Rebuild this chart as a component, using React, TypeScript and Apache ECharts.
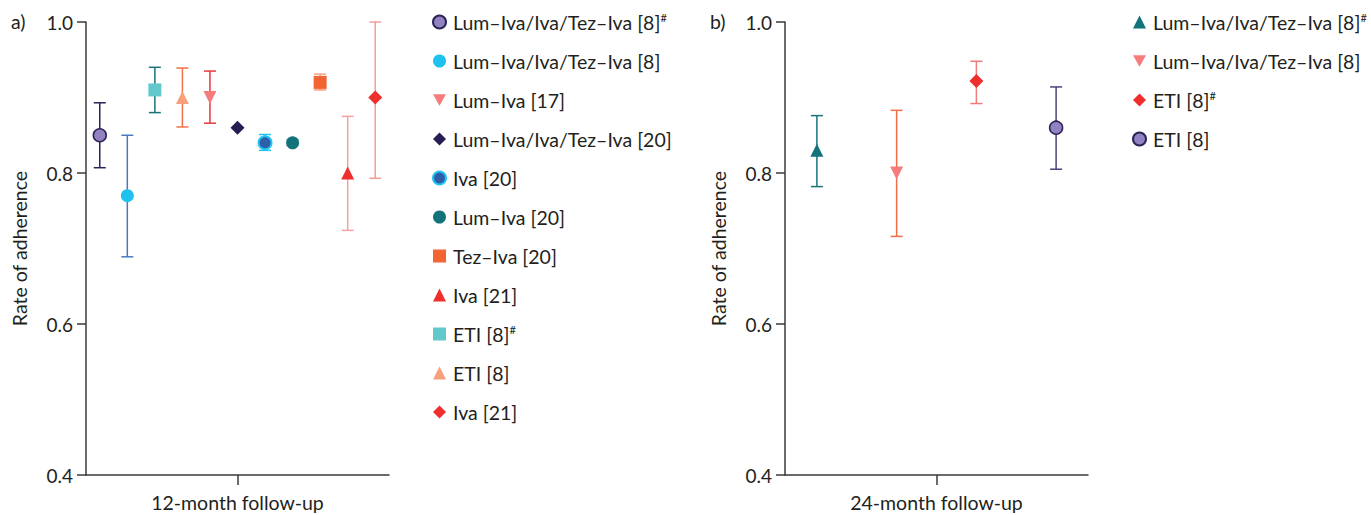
import React, { useEffect, useRef } from "react";
import * as echarts from "echarts";

// ---------- Panel a) 12-month follow-up (legend order) ----------
const studiesA = [
  "Lum–Iva/Iva/Tez–Iva [8]#",
  "Lum–Iva/Iva/Tez–Iva [8]",
  "Lum–Iva [17]",
  "Lum–Iva/Iva/Tez–Iva [20]",
  "Iva [20]",
  "Lum–Iva [20]",
  "Tez–Iva [20]",
  "Iva [21]",
  "ETI [8]#",
  "ETI [8]",
  "Iva [21]",
];
const posA = [1, 2, 5, 6, 7, 8, 9, 10, 3, 4, 11];
const rateA = [0.85, 0.77, 0.9, 0.86, 0.84, 0.84, 0.92, 0.8, 0.91, 0.9, 0.9];
const lowA = [0.807, 0.689, 0.866, null, 0.83, 0.836, 0.91, 0.724, 0.88, 0.861, 0.793];
const highA = [0.893, 0.85, 0.935, null, 0.851, 0.844, 0.931, 0.875, 0.94, 0.939, 1.0];

// ---------- Panel b) 24-month follow-up ----------
const studiesB = [
  "Lum–Iva/Iva/Tez–Iva [8]#",
  "Lum–Iva/Iva/Tez–Iva [8]",
  "ETI [8]#",
  "ETI [8]",
];
const posB = [1, 2, 3, 4];
const rateB = [0.83, 0.8, 0.922, 0.86];
const lowB = [0.782, 0.716, 0.892, 0.805];
const highB = [0.876, 0.883, 0.948, 0.914];

const yTicks = [0.4, 0.6, 0.8, 1.0];
const xLabelA = "12-month follow-up";
const xLabelB = "24-month follow-up";

// ---------- styles ----------
const DOWN = "path://M0,0L10,0L5,9Z";
const stylesA = [
  { symbol: "circle", color: "#9282C2", border: "#2B2356", bw: 1.5, bar: "#2B2356" },
  { symbol: "circle", color: "#1FC1EE", border: null, bw: 0, bar: "#4A78BB" },
  { symbol: DOWN, color: "#F47C7C", border: null, bw: 0, bar: "#E8383A" },
  { symbol: "diamond", color: "#251E55", border: null, bw: 0, bar: "#251E55" },
  { symbol: "circle", color: "#2F5EA9", border: "#22C3F0", bw: 2, bar: "#22C3F0" },
  { symbol: "circle", color: "#12737A", border: null, bw: 0, bar: "#7CC5C5" },
  { symbol: "rect", color: "#F26432", border: null, bw: 0, bar: "#F7A07F" },
  { symbol: "triangle", color: "#EF2E2E", border: null, bw: 0, bar: "#F6A1A3" },
  { symbol: "rect", color: "#62C8CB", border: null, bw: 0, bar: "#1B737A" },
  { symbol: "triangle", color: "#F7A07C", border: null, bw: 0, bar: "#F26F45" },
  { symbol: "diamond", color: "#EF2E2E", border: null, bw: 0, bar: "#F59A9C" },
];
const stylesB = [
  { symbol: "triangle", color: "#12737A", border: null, bw: 0, bar: "#1B737A" },
  { symbol: DOWN, color: "#F47C7C", border: null, bw: 0, bar: "#F26F45" },
  { symbol: "diamond", color: "#EF2E2E", border: null, bw: 0, bar: "#F07A7C" },
  { symbol: "circle", color: "#9282C2", border: "#2B2356", bw: 1.5, bar: "#4B4478" },
];

const FONT = "Lato";
const TXT = "#231F20";
const AXIS = "#3A3A3A";
const FS = 19.5;

function fmtLabel(s: string) {
  if (s.endsWith("#")) return s.slice(0, -1) + "{sup|#}";
  return s;
}

function buildPanel(
  prefix: string,
  idx: number,
  studies: string[],
  pos: number[],
  rate: number[],
  low: (number | null)[],
  high: (number | null)[],
  styles: any[]
) {
  const series: any[] = [];
  const errData: any[] = [];
  studies.forEach((_, i) => {
    if (low[i] != null && high[i] != null) errData.push([pos[i], low[i], high[i], i]);
  });
  series.push({
    type: "custom",
    name: prefix + "err",
    xAxisIndex: idx,
    yAxisIndex: idx,
    encode: { x: 0, y: [1, 2] },
    data: errData,
    z: 1,
    renderItem: (params: any, api: any) => {
      const x = api.value(0);
      const lo = api.value(1);
      const hi = api.value(2);
      const k = api.value(3);
      const p1 = api.coord([x, hi]);
      const p2 = api.coord([x, lo]);
      const w = 6;
      const style = { stroke: styles[k].bar, lineWidth: 1.5 };
      return {
        type: "group",
        children: [
          { type: "line", shape: { x1: p1[0], y1: p1[1], x2: p2[0], y2: p2[1] }, style },
          { type: "line", shape: { x1: p1[0] - w, y1: p1[1], x2: p1[0] + w, y2: p1[1] }, style },
          { type: "line", shape: { x1: p2[0] - w, y1: p2[1], x2: p2[0] + w, y2: p2[1] }, style },
        ],
      };
    },
  });
  studies.forEach((_, i) => {
    const st = styles[i];
    series.push({
      type: "scatter",
      name: prefix + i,
      xAxisIndex: idx,
      yAxisIndex: idx,
      symbol: st.symbol,
      symbolSize: st.symbol === "diamond" ? 14 : 13,
      z: 3,
      itemStyle: {
        color: st.color,
        borderColor: st.border || st.color,
        borderWidth: st.bw,
        opacity: 1,
      },
      data: [[pos[i], rate[i]]],
    });
  });
  return series;
}

export default function App() {
  const ref = useRef<HTMLDivElement>(null);
  useEffect(() => {
    if (!ref.current) return;
    document.body.style.margin = "0";
    const chart = echarts.init(ref.current, null, { renderer: "svg" });
    const labelMap: Record<string, string> = {};
    studiesA.forEach((s, i) => (labelMap["a" + i] = s));
    studiesB.forEach((s, i) => (labelMap["b" + i] = s));

    const yAxisBase = () => ({
      type: "value",
      min: 0.4,
      max: 1.0,
      interval: 0.2,
      name: "Rate of adherence",
      nameLocation: "middle",
      nameGap: 57,
      nameTextStyle: { fontFamily: FONT, fontSize: FS, color: TXT },
      axisLine: { show: true, lineStyle: { color: AXIS, width: 1.5 } },
      axisTick: { show: true, length: 9, lineStyle: { color: AXIS, width: 1.5 } },
      axisLabel: {
        fontFamily: FONT,
        fontSize: 19,
        color: TXT,
        margin: 13,
        formatter: (v: number) => v.toFixed(1),
        customValues: yTicks,
      },
      splitLine: { show: false },
    });
    const xAxisBase = (min: number, max: number, tick: number, label: string) => ({
      type: "value",
      min,
      max,
      axisLine: { show: true, onZero: false, lineStyle: { color: AXIS, width: 1.5 } },
      axisTick: { show: true, length: 10, customValues: [tick], lineStyle: { color: AXIS, width: 1.5 } },
      axisLabel: {
        show: true,
        customValues: [tick],
        formatter: () => label,
        fontFamily: FONT,
        fontSize: FS,
        color: TXT,
        margin: 17,
      },
      splitLine: { show: false },
    });

    const legendBase = (left: number, names: string[]) => ({
      orient: "vertical",
      left,
      top: 12,
      padding: 0,
      itemGap: 19,
      itemWidth: 13,
      itemHeight: 13,
      selectedMode: false,
      data: names,
      formatter: (n: string) => fmtLabel(labelMap[n] || n),
      textStyle: {
        fontFamily: FONT,
        fontSize: FS,
        color: TXT,
        lineHeight: 20,
        padding: [0, 0, 0, 2],
        rich: {
          sup: { fontFamily: FONT, fontSize: 11, color: TXT, verticalAlign: "top", lineHeight: 11 },
        },
      },
    });

    chart.setOption({
      animation: false,
      backgroundColor: "#ffffff",
      textStyle: { fontFamily: FONT },
      grid: [
        { left: 86, top: 22, width: 303, height: 453, containLabel: false },
        { left: 785, top: 22, width: 303, height: 453, containLabel: false },
      ],
      xAxis: [
        { ...xAxisBase(0.5, 11.5, 6, xLabelA), gridIndex: 0 },
        { ...xAxisBase(0.6, 4.4, 2.5, xLabelB), gridIndex: 1 },
      ],
      yAxis: [
        { ...yAxisBase(), gridIndex: 0 },
        { ...yAxisBase(), gridIndex: 1 },
      ],
      legend: [
        legendBase(432, studiesA.map((_, i) => "a" + i)),
        legendBase(1132, studiesB.map((_, i) => "b" + i)),
      ],
      graphic: [
        { type: "text", left: 11, top: 11, style: { text: "a)", fontFamily: FONT, fontSize: FS, fill: TXT } },
        { type: "text", left: 710, top: 11, style: { text: "b)", fontFamily: FONT, fontSize: FS, fill: TXT } },
      ],
      tooltip: { show: false },
      series: [
        ...buildPanel("a", 0, studiesA, posA, rateA, lowA, highA, stylesA),
        ...buildPanel("b", 1, studiesB, posB, rateB, lowB, highB, stylesB),
      ],
    });
    return () => chart.dispose();
  }, []);
  return <div ref={ref} style={{ width: 1371, height: 515 }} />;
}
